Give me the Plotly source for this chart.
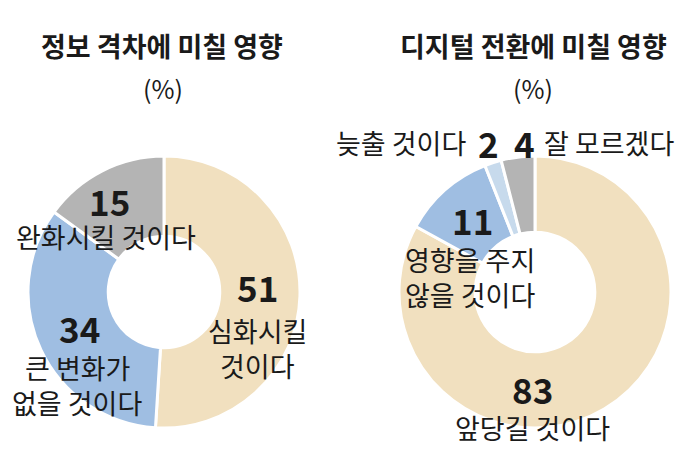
import plotly.graph_objects as go

W, H = 680, 475

# ---- data ----
title_left = "정보 격차에 미칠 영향"
title_right = "디지털 전환에 미칠 영향"
unit = "(%)"

cats_left = ["심화시킬 것이다", "큰 변화가 없을 것이다", "완화시킬 것이다"]
vals_left = [51, 34, 15]
labels_left = ["심화시킬<br>것이다", "큰 변화가<br>없을 것이다", "완화시킬 것이다"]

cats_right = ["앞당길 것이다", "영향을 주지 않을 것이다", "늦출 것이다", "잘 모르겠다"]
vals_right = [83, 11, 2, 4]
labels_right = ["앞당길 것이다", "영향을 주지<br>않을 것이다", "늦출 것이다", "잘 모르겠다"]

colors_left = ["#F1E0BF", "#9FBEE2", "#B4B4B4"]
colors_right = ["#F1E0BF", "#9FBEE2", "#C7DAEC", "#B4B4B4"]

FONT = "Noto Sans CJK KR"
TXT = "#1a1a1a"

def px(x):
    return x / W

def py(y):
    return 1 - y / H

fig = go.Figure()
fig.add_trace(go.Pie(
    labels=cats_left, values=vals_left, hole=0.41, sort=False,
    direction="clockwise", rotation=0, textinfo="none", hoverinfo="label+value",
    marker=dict(colors=colors_left, line=dict(color="white", width=3)),
    domain=dict(x=[px(28), px(300)], y=[py(428), py(156)]),
    showlegend=False,
))
fig.add_trace(go.Pie(
    labels=cats_right, values=vals_right, hole=0.44, sort=False,
    direction="clockwise", rotation=0, textinfo="none", hoverinfo="label+value",
    marker=dict(colors=colors_right, line=dict(color="white", width=3)),
    domain=dict(x=[px(399), px(671)], y=[py(428), py(156)]),
    showlegend=False,
))

ann = []

def add(text, x, y, size, bold=False, xanchor="center"):
    ann.append(dict(
        text=f"<b>{text}</b>" if bold else text,
        x=px(x), y=py(y), xref="paper", yref="paper",
        xanchor=xanchor, yanchor="middle", showarrow=False,
        font=dict(family=FONT, size=size, color=TXT),
    ))

def add_lines(text, x, y0, size, gap, xanchor="center"):
    for i, line in enumerate(text.split("<br>")):
        add(line, x, y0 + i * gap, size, xanchor=xanchor)

TITLE = 27
UNIT = 25
NUM = 35
LBL = 27
GAP = 35

# titles
add(title_left, 162, 46, TITLE, bold=True)
add(unit, 163, 88, UNIT)
add(title_right, 533, 46, TITLE, bold=True)
add(unit, 533, 88, UNIT)

# left donut labels
add(str(vals_left[0]), 257, 286, NUM, bold=True)
add_lines(labels_left[0], 257, 330, LBL, GAP)
add(str(vals_left[1]), 79, 327, NUM, bold=True)
add_lines(labels_left[1], 77, 367, LBL, GAP)
add(str(vals_left[2]), 109, 200, NUM, bold=True)
add_lines(labels_left[2], 106, 236, LBL, GAP)

# right donut labels
add(str(vals_right[0]), 532, 388, NUM, bold=True)
add_lines(labels_right[0], 532, 427, LBL, GAP)
add(str(vals_right[1]), 472, 219, NUM, bold=True)
add_lines(labels_right[1], 470, 259, LBL, GAP)
add(str(vals_right[2]), 488, 142, NUM, bold=True)
add_lines(labels_right[2], 468, 142, LBL, GAP, xanchor="right")
add(str(vals_right[3]), 524, 142, NUM, bold=True)
add_lines(labels_right[3], 542, 142, LBL, GAP, xanchor="left")

fig.update_layout(
    width=W, height=H,
    margin=dict(l=0, r=0, t=0, b=0),
    paper_bgcolor="white", plot_bgcolor="white",
    annotations=ann,
    font=dict(family=FONT),
)

fig.write_html("out.html")
